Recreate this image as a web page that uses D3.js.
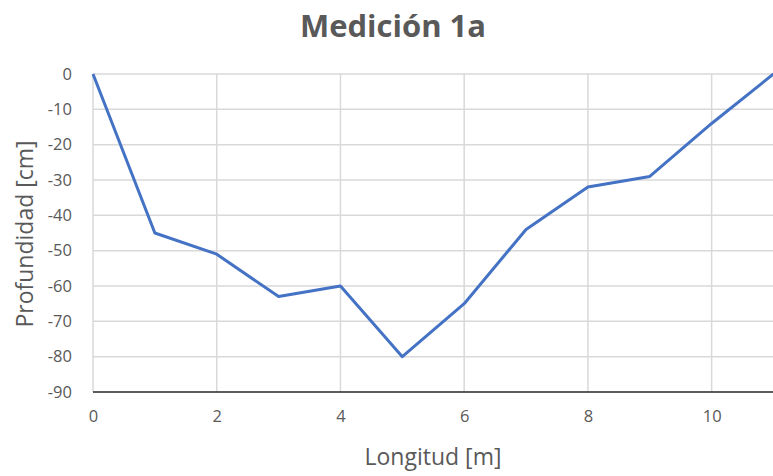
<!DOCTYPE html>
<html><head><meta charset="utf-8">
<script src="https://cdn.jsdelivr.net/npm/d3@7"></script>
<style>body{margin:0;background:#fff}svg{display:block}</style>
</head><body>
<script>
const longitud = [0,1,2,3,4,5,6,7,8,9,10,11];
const profundidad = [0,-45,-51,-63,-60,-80,-65,-44,-32,-29,-14,0];
const xTicks = [0,2,4,6,8,10];
const yTicks = [0,-10,-20,-30,-40,-50,-60,-70,-80,-90];
const title = "Medición 1a";
const xLabel = "Longitud [m]";
const yLabel = "Profundidad [cm]";

const W=773,H=476;
const svg=d3.select("body").append("svg").attr("width",W).attr("height",H);
const font="'Open Sans', sans-serif";
const x=d3.scaleLinear().domain([0,11]).range([93,773.5]);
const y=d3.scaleLinear().domain([-90,0]).range([392,74]);
const fmt=d=>String(d);

// gridlines
svg.append("g").selectAll("line.h").data(yTicks.filter(d=>d!==-90)).join("line")
 .attr("x1",x(0)).attr("x2",W).attr("y1",d=>y(d)).attr("y2",d=>y(d))
 .attr("stroke","#d9d9d9").attr("stroke-width",1.5);
svg.append("g").selectAll("line.v").data(xTicks).join("line")
 .attr("x1",d=>x(d)).attr("x2",d=>x(d)).attr("y1",y(0)).attr("y2",y(-90))
 .attr("stroke","#d9d9d9").attr("stroke-width",1.5);

// axes
const xa=svg.append("g").attr("transform",`translate(0,${y(-90)})`)
 .call(d3.axisBottom(x).tickValues(xTicks).tickSize(0).tickPadding(18).tickFormat(fmt));
xa.select(".domain").attr("stroke","#262626").attr("stroke-width",1.5).attr("d",`M${x(0)},0H${W}`);
xa.selectAll("text").attr("fill","#595959").attr("font-size",16.5).attr("font-family",font);

const ya=svg.append("g").attr("transform",`translate(${x(0)},0)`)
 .call(d3.axisLeft(y).tickValues(yTicks).tickSize(0).tickPadding(21).tickFormat(fmt));
ya.select(".domain").remove();
ya.selectAll("text").attr("fill","#595959").attr("font-size",16.5).attr("font-family",font);

// line
svg.append("path").datum(longitud.map((d,i)=>[d,profundidad[i]]))
 .attr("fill","none").attr("stroke","#4472C4").attr("stroke-width",3)
 .attr("stroke-linejoin","round")
 .attr("d",d3.line().x(d=>x(d[0])).y(d=>y(d[1])));

// titles
svg.append("text").attr("x",393).attr("y",37).attr("text-anchor","middle")
 .attr("font-family",font).attr("font-weight","bold").attr("font-size",31).attr("fill","#595959").text(title);
svg.append("text").attr("x",433).attr("y",465).attr("text-anchor","middle")
 .attr("font-family",font).attr("font-size",23).attr("fill","#595959").text(xLabel);
svg.append("text").attr("transform","translate(33,234) rotate(-90)").attr("text-anchor","middle")
 .attr("font-family",font).attr("font-size",23).attr("fill","#595959").text(yLabel);
</script>
</body></html>
